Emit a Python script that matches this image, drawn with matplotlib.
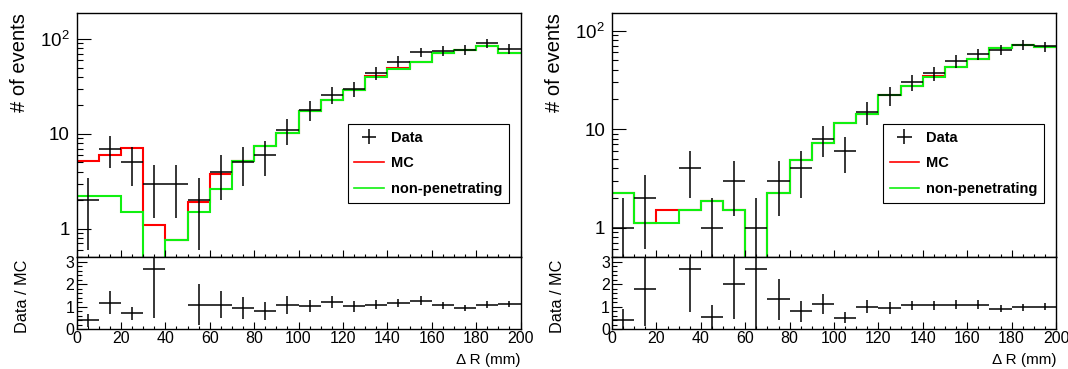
import numpy as np
import matplotlib
matplotlib.use("Agg")
import matplotlib.pyplot as plt
from matplotlib.lines import Line2D
from matplotlib.ticker import MultipleLocator, LogLocator, FixedLocator, FixedFormatter, NullFormatter

plt.rcParams["font.family"] = ["Liberation Sans", "DejaVu Sans"]
plt.rcParams["mathtext.fontset"] = "custom"
plt.rcParams["mathtext.rm"] = "Liberation Sans"
plt.rcParams["mathtext.default"] = "regular"

# 10 mm bins from 0 to 200 mm
BIN_EDGES = list(range(0, 210, 10))

nan = np.nan

# left pair of panels
left_data = [2, 7, 5, 3, 3, 2, 4, 5, 6, 11, 18, 26, 30, 44, 58, 73, 75, 77, 91, 79]
left_data_err = [1.4, 2.6, 2.2, 1.7, 1.7, 1.4, 2.0, 2.2, 2.4, 3.3, 4.2, 5.1, 5.5, 6.6, 7.6, 8.5, 8.7, 8.8, 9.5, 8.9]
left_mc = [5.2, 6.0, 7.1, 1.1, 0.76, 1.9, 3.8, 5.2, 7.5, 10.2, 17.3, 22.6, 28.8, 40.4, 49.5, 57.3, 71, 77, 85, 71]
left_nonpen = [2.24, 2.24, 1.5, 0, 0.76, 1.5, 2.6, 5.2, 7.5, 10.2, 17.3, 22.6, 28.8, 40, 48, 57.3, 71, 77, 85, 71]
left_ratio = [0.38, 1.17, 0.70, 2.67, nan, 1.08, 1.08, 0.94, 0.79, 1.08, 1.02, 1.2, 1.02, 1.08, 1.17, 1.27, 1.05, 0.94, 1.09, 1.12]
left_ratio_err = [0.27, 0.52, 0.30, 2.2, nan, 0.91, 0.6, 0.48, 0.40, 0.41, 0.28, 0.26, 0.24, 0.2, 0.19, 0.2, 0.16, 0.15, 0.15, 0.15]

# right pair of panels
right_data = [1, 2, nan, 4, 1, 3, 1, 3, 4, 8, 6, 15, 22, 30, 37, 49, 58, 64, 72, 69]
right_data_err = [1.0, 1.4, nan, 2.0, 1.0, 1.7, 1.0, 1.7, 2.0, 2.8, 2.4, 3.9, 4.7, 5.5, 6.1, 7.0, 7.6, 8.0, 8.5, 8.3]
right_mc = [2.26, 1.12, 1.5, 1.5, 1.86, 1.5, 0.37, 2.26, 4.86, 7.2, 11.6, 14.4, 22.1, 27.7, 35, 42.7, 52, 66, 72, 68]
right_nonpen = [2.26, 1.12, 1.12, 1.5, 1.86, 1.5, 0, 2.26, 4.86, 7.2, 11.6, 14.4, 22.1, 27.7, 34, 42.7, 51, 66, 72, 68]
right_ratio = [0.42, 1.77, nan, 2.67, 0.52, 2.0, 2.67, 1.32, 0.8, 1.12, 0.5, 1.0, 0.94, 1.05, 1.05, 1.09, 1.09, 0.9, 0.97, 0.99]
right_ratio_err = [0.48, 1.62, nan, 1.92, 0.57, 1.54, 3.0, 0.93, 0.47, 0.46, 0.25, 0.3, 0.25, 0.22, 0.2, 0.19, 0.19, 0.15, 0.15, 0.15]

LEGEND_LABELS = ["Data", "MC", "non-penetrating"]
RED = "#ff0000"
GREEN = "#10f010"

W, H = 1068, 369
fig = plt.figure(figsize=(W / 100, H / 100), dpi=100)


def px_axes(x0, x1, y0, y1):
    # pixel box -> figure fraction
    return fig.add_axes([x0 / W, (H - y1) / H, (x1 - x0) / W, (y1 - y0) / H])


def draw_pair(x0, data, data_err, mc, nonpen, ratio, ratio_err, ymax):
    edges = np.array(BIN_EDGES)
    centers = 0.5 * (edges[1:] + edges[:-1])
    half = 0.5 * np.diff(edges)

    ax = px_axes(x0, x0 + 444, 12.7, 257.3)
    rax = px_axes(x0, x0 + 444, 257.3, 329)

    ax.set_yscale("log", nonpositive="clip")
    ax.stairs(mc, edges, color=RED, lw=1.5, baseline=None)
    ax.stairs(nonpen, edges, color=GREEN, lw=1.5, baseline=None)
    eb = ax.errorbar(centers, data, xerr=half, yerr=data_err, fmt="none",
                     ecolor="black", elinewidth=1.1, capsize=0)
    ax.set_xlim(0, 200)
    ax.set_ylim(0.5, ymax)

    ax.yaxis.set_major_locator(FixedLocator([1, 10, 100]))
    ax.yaxis.set_major_formatter(FixedFormatter(["1", "10", "$10^{2}$"]))
    ax.yaxis.set_minor_locator(LogLocator(base=10, subs=np.arange(2, 10)))
    ax.yaxis.set_minor_formatter(NullFormatter())
    ax.xaxis.set_major_locator(MultipleLocator(20))
    ax.xaxis.set_minor_locator(MultipleLocator(5))
    ax.tick_params(axis="x", which="both", direction="in", labelbottom=False, top=False)
    ax.tick_params(axis="x", which="major", length=5, width=0.8)
    ax.tick_params(axis="x", which="minor", length=2.5, width=0.8)
    ax.tick_params(axis="y", which="both", direction="in", right=False)
    ax.tick_params(axis="y", which="major", length=10, width=0.8, labelsize=13.5, pad=5)
    ax.tick_params(axis="y", which="minor", length=4.5, width=0.8)
    ax.set_ylabel("# of events", fontsize=14.5, loc="top")
    ax.yaxis.set_label_coords(-0.108, 1.0)

    handles = [eb, Line2D([], [], color=RED, lw=1.2), Line2D([], [], color=GREEN, lw=1.2)]
    leg = ax.legend(handles, LEGEND_LABELS, loc="upper left", bbox_to_anchor=(0.611, 0.544),
                    prop={"weight": "bold", "size": 10.5}, fancybox=False, framealpha=1,
                    edgecolor="black", borderpad=0.45, labelspacing=0.8,
                    handlelength=2.0, handletextpad=0.5, borderaxespad=0)
    leg.get_frame().set_linewidth(0.8)

    rax.errorbar(centers, ratio, xerr=half, yerr=ratio_err, fmt="none",
                 ecolor="black", elinewidth=1.1, capsize=0)
    rax.set_xlim(0, 200)
    rax.set_ylim(0, 3.2)
    rax.xaxis.set_major_locator(MultipleLocator(20))
    rax.xaxis.set_minor_locator(MultipleLocator(5))
    rax.yaxis.set_major_locator(MultipleLocator(1))
    rax.yaxis.set_minor_locator(MultipleLocator(0.2))
    rax.tick_params(axis="both", which="both", direction="in", top=False, right=False)
    rax.tick_params(axis="x", which="major", length=5, width=0.8, labelsize=11.5, pad=1.5)
    rax.tick_params(axis="x", which="minor", length=2.5, width=0.8)
    rax.tick_params(axis="y", which="major", length=7, width=0.8, labelsize=11.5, pad=1.5)
    rax.tick_params(axis="y", which="minor", length=3.5, width=0.8)
    rax.set_ylabel("Data / MC", fontsize=11.7)
    rax.yaxis.set_label_coords(-0.105, 0.46)
    rax.set_xlabel("\u0394 R (mm)", fontsize=11, loc="right")
    rax.xaxis.set_label_coords(1.0, -0.33)

    for a in (ax, rax):
        for s in a.spines.values():
            s.set_linewidth(1.0)


draw_pair(76.5, left_data, left_data_err, left_mc, left_nonpen, left_ratio, left_ratio_err, 190)
draw_pair(612, right_data, right_data_err, right_mc, right_nonpen, right_ratio, right_ratio_err, 152)

fig.savefig("out.png", dpi=100)
